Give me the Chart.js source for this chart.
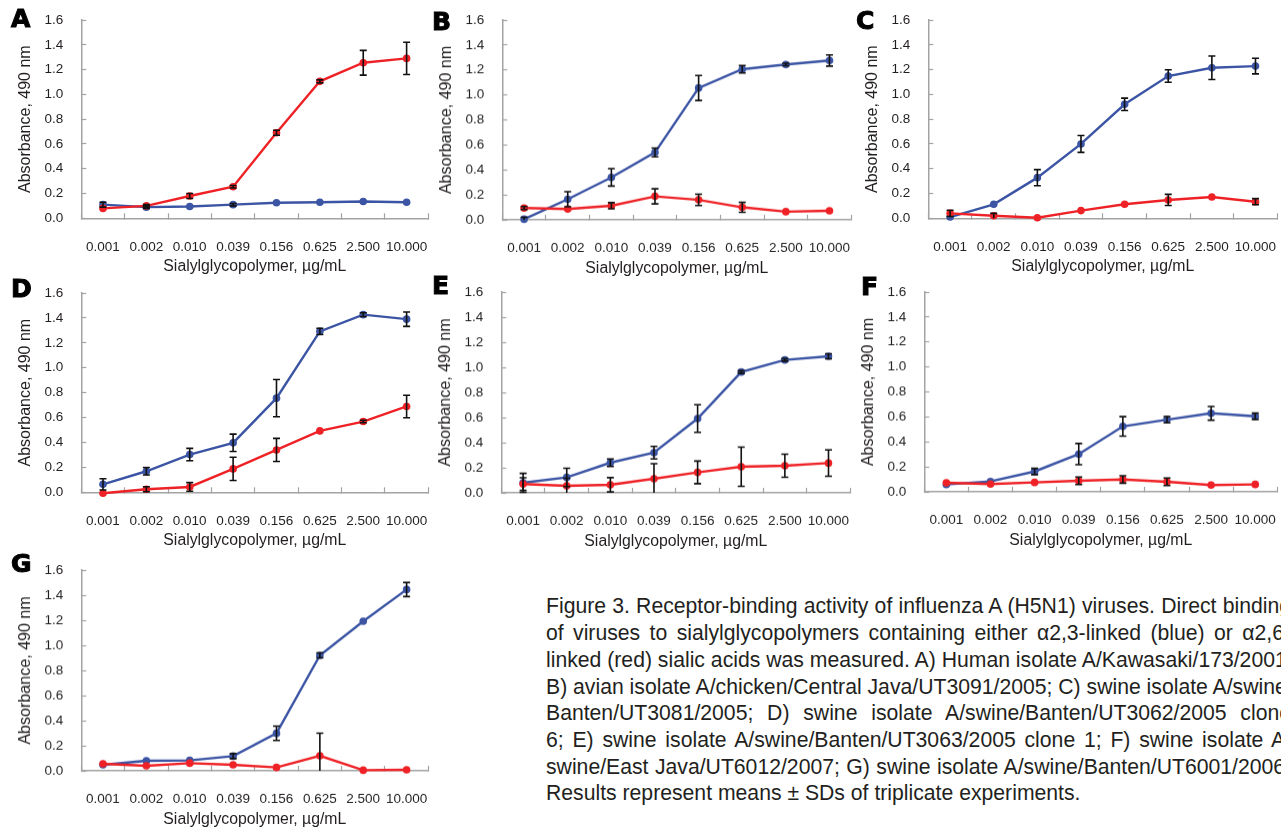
<!DOCTYPE html>
<html>
<head>
<meta charset="utf-8">
<script src="https://cdn.jsdelivr.net/npm/chart.js@4.4.1/dist/chart.umd.min.js"></script>
<style>
  html, body { margin:0; padding:0; background:#fff; overflow:hidden; width:1281px; height:829px; }
  .panel { position:absolute; }
  .letter { position:absolute; font-family:"DejaVu Sans", sans-serif; font-weight:900; font-size:25px; line-height:25px; color:#000; -webkit-text-stroke:1px #000; }
  .cap { position:absolute; left:546px; font-family:"Liberation Sans", Arial, sans-serif; font-size:21.2px; line-height:26.7px; color:#231f20; white-space:nowrap; }
  .cap.j { text-align:justify; text-align-last:justify; white-space:normal; }
</style>
</head>
<body>
<div id="root"></div>
<script>
var concLabels = ['0.001','0.002','0.010','0.039','0.156','0.625','2.500','10.000'];

// alpha2,3 (blue) and alpha2,6 (red) means and SDs per panel
var blueA = [0.11,0.09,0.095,0.11,0.125,0.13,0.135,0.13];
var blueSdA = [0.02,0.01,0,0.01,0,0,0,0];
var redA = [0.08,0.10,0.18,0.255,0.69,1.105,1.255,1.29];
var redSdA = [0,0.01,0.02,0.01,0.02,0.012,0.1,0.13];

var blueB = [0.005,0.165,0.34,0.54,1.056,1.206,1.244,1.276];
var blueSdB = [0.015,0.06,0.07,0.035,0.1,0.03,0.01,0.045];
var redB = [0.094,0.086,0.113,0.188,0.16,0.10,0.065,0.072];
var redSdB = [0.012,0,0.025,0.06,0.045,0.04,0,0];

var blueC = [0.01,0.113,0.328,0.6,0.92,1.148,1.215,1.228];
var blueSdC = [0,0,0.065,0.068,0.05,0.05,0.095,0.063];
var redC = [0.04,0.02,0.005,0.062,0.113,0.148,0.172,0.134];
var redSdC = [0.025,0.02,0,0,0,0.045,0,0.025];

var blueD = [0.064,0.169,0.303,0.397,0.756,1.292,1.426,1.39];
var blueSdD = [0.045,0.03,0.05,0.07,0.15,0.025,0.015,0.058];
var redD = [-0.008,0.024,0.043,0.188,0.34,0.493,0.568,0.689];
var redSdD = [0,0.02,0.035,0.093,0.093,0,0.01,0.09];

var blueE = [0.08,0.123,0.24,0.32,0.592,0.963,1.059,1.088];
var blueSdE = [0.075,0.073,0.03,0.05,0.11,0.01,0.01,0.02];
var redE = [0.07,0.056,0.064,0.112,0.163,0.208,0.216,0.237];
var redSdE = [0.05,0.06,0.057,0.12,0.09,0.156,0.092,0.105];

var blueF = [0.059,0.083,0.163,0.302,0.524,0.578,0.629,0.605];
var blueSdF = [0,0,0.025,0.085,0.078,0.025,0.055,0.025];
var redF = [0.072,0.062,0.075,0.088,0.099,0.08,0.054,0.059];
var redSdF = [0,0,0,0.03,0.03,0.03,0,0];

var blueG = [0.048,0.08,0.083,0.117,0.299,0.92,1.192,1.445];
var blueSdG = [0,0,0,0.02,0.057,0.02,0,0.056];
var redG = [0.056,0.04,0.061,0.048,0.027,0.12,0.005,0.008];
var redSdG = [0,0,0,0,0,0.18,0,0];

var yTicks = [0,0.2,0.4,0.6,0.8,1.0,1.2,1.4,1.6];

var BLUE = '#3b54a4', RED = '#ee2226', TXT = '#231f20', AX = '#a3a3a3';

// panel boxes: plot left, right, top, bottom and letter spot
var panels = [
  {k:'A', blue:blueA, bsd:blueSdA, red:redA, rsd:redSdA, L:81,  R:428,  T:20,  B:218.3, lx:11,  ly:6},
  {k:'B', blue:blueB, bsd:blueSdB, red:redB, rsd:redSdB, L:502, R:851,  T:20,  B:219,   lx:432, ly:9},
  {k:'C', blue:blueC, bsd:blueSdC, red:redC, rsd:redSdC, L:928, R:1277, T:20,  B:218.3, lx:856, ly:8},
  {k:'D', blue:blueD, bsd:blueSdD, red:redD, rsd:redSdD, L:81,  R:428,  T:293, B:492.3, lx:11,  ly:276},
  {k:'E', blue:blueE, bsd:blueSdE, red:redE, rsd:redSdE, L:501, R:850,  T:292, B:492,   lx:432, ly:273},
  {k:'F', blue:blueF, bsd:blueSdF, red:redF, rsd:redSdF, L:924, R:1277, T:292, B:491,   lx:861, ly:274},
  {k:'G', blue:blueG, bsd:blueSdG, red:redG, rsd:redSdG, L:81,  R:428,  T:570, B:770,   lx:11,  ly:551}
];

var errorBars = {
  id: 'errorBars',
  afterDatasetsDraw: function(chart) {
    var c = chart.ctx, x = chart.scales.x, y = chart.scales.y, area = chart.chartArea;
    c.save();
    c.strokeStyle = '#111';
    c.lineWidth = 1.6;
    chart.data.datasets.forEach(function(ds) {
      ds.data.forEach(function(v, i) {
        var sd = ds.sd[i];
        if (!sd) return;
        var px = x.getPixelForValue(i);
        var top = y.getPixelForValue(v + sd);
        var bot = Math.min(y.getPixelForValue(v - sd), area.bottom);
        c.beginPath();
        c.moveTo(px, top); c.lineTo(px, bot);
        c.moveTo(px - 3.5, top); c.lineTo(px + 3.5, top);
        if (bot < area.bottom) { c.moveTo(px - 3.5, bot); c.lineTo(px + 3.5, bot); }
        c.stroke();
      });
    });
    c.restore();
  }
};

var root = document.getElementById('root');
var PAD_T = 10, PAD_R = 4, YW = 65.3, XH = 57.7;

panels.forEach(function(p) {
  var left = p.L - YW, top = p.T - PAD_T;
  var w = p.R + PAD_R - left, h = p.B + XH - top;
  var box = document.createElement('div');
  box.className = 'panel';
  box.style.left = left + 'px'; box.style.top = top + 'px';
  box.style.width = w + 'px'; box.style.height = h + 'px';
  var cv = document.createElement('canvas');
  box.appendChild(cv);
  root.appendChild(box);

  var lt = document.createElement('div');
  lt.className = 'letter';
  lt.style.left = p.lx + 'px'; lt.style.top = p.ly + 'px';
  lt.textContent = p.k;
  root.appendChild(lt);

  new Chart(cv.getContext('2d'), {
    type: 'line',
    data: {
      labels: concLabels,
      datasets: [
        {data: p.blue, sd: p.bsd, borderColor: BLUE, backgroundColor: BLUE, borderWidth: 2.4,
         pointRadius: 3.8, pointBorderWidth: 0, order: 2, clip: false},
        {data: p.red, sd: p.rsd, borderColor: RED, backgroundColor: RED, borderWidth: 2.4,
         pointRadius: 3.8, pointBorderWidth: 0, order: 1, clip: false}
      ]
    },
    options: {
      responsive: true,
      maintainAspectRatio: false,
      animation: false,
      events: [],
      layout: {padding: {top: PAD_T, right: PAD_R, bottom: 0, left: 0}},
      plugins: {legend: {display: false}, tooltip: {enabled: false}},
      scales: {
        x: {
          type: 'category',
          offset: true,
          grid: {drawOnChartArea: false, drawTicks: true, tickLength: -5, offset: true, tickColor: AX, tickWidth: 1.2},
          border: {display: true, color: AX, width: 1.5},
          ticks: {color: TXT, font: {family: 'Liberation Sans', size: 13.5}, padding: 25.5, maxRotation: 0, autoSkip: false},
          title: {display: true, text: 'Sialylglycopolymer, \u00b5g/mL', color: TXT,
                  font: {family: 'Liberation Sans', size: 15.8}, padding: {top: 0, bottom: 0}},
          afterFit: function(s) { s.height = XH; s.paddingLeft = 0; s.paddingRight = 0; }
        },
        y: {
          min: 0, max: 1.6,
          afterBuildTicks: function(s) { s.ticks = yTicks.map(function(v) { return {value: v}; }); },
          grid: {drawOnChartArea: false, drawTicks: true, tickLength: -5, tickColor: AX, tickWidth: 1.2},
          border: {display: true, color: AX, width: 1.5},
          ticks: {color: TXT, font: {family: 'Liberation Sans', size: 13.5}, padding: 23,
                  callback: function(v) { return Number(v).toFixed(1); }},
          title: {display: true, text: 'Absorbance, 490 nm', color: TXT,
                  font: {family: 'Liberation Sans', size: 16}, padding: {top: 0, bottom: 0}},
          afterFit: function(s) { s.width = YW; s.paddingTop = 0; s.paddingBottom = 0; }
        }
      }
    },
    plugins: [errorBars]
  });
});

// caption, one line per row as in the figure
var capLines = [
  'Figure 3. Receptor-binding activity of influenza A (H5N1) viruses. Direct binding',
  'of viruses to sialylglycopolymers containing either \u03b12,3-linked (blue) or \u03b12,6-',
  'linked (red) sialic acids was measured. A) Human isolate A/Kawasaki/173/2001;',
  'B) avian isolate A/chicken/Central Java/UT3091/2005; C) swine isolate A/swine/',
  'Banten/UT3081/2005; D) swine isolate A/swine/Banten/UT3062/2005 clone',
  '6; E) swine isolate A/swine/Banten/UT3063/2005 clone 1; F) swine isolate A/',
  'swine/East Java/UT6012/2007; G) swine isolate A/swine/Banten/UT6001/2006.',
  'Results represent means \u00b1 SDs of triplicate experiments.'
];
var CAP_W = 745;
capLines.forEach(function(t, i) {
  var d = document.createElement('div');
  d.className = 'cap';
  d.style.top = (593.4 + i * 26.7) + 'px';
  d.textContent = t;
  root.appendChild(d);
  if (i < capLines.length - 1 && d.offsetWidth < CAP_W) {
    d.className = 'cap j';
    d.style.width = CAP_W + 'px';
  }
});
</script>
</body>
</html>
